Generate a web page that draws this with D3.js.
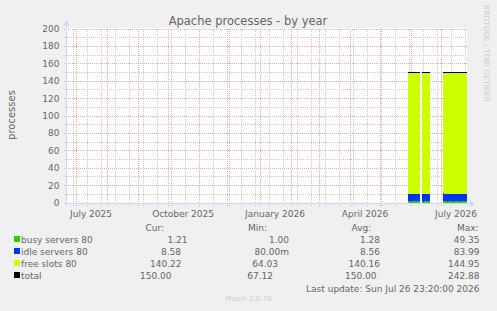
<!DOCTYPE html>
<html>
<head>
<meta charset="utf-8">
<script src="https://cdn.jsdelivr.net/npm/d3@7"></script>
<style>
  html, body { margin: 0; padding: 0; background: #f0f0f0; }
  svg { display: block; font-family: "DejaVu Sans", sans-serif; }
</style>
</head>
<body>
<div id="chart"></div>
<script>
// ---- data ----
const endTime = new Date(Date.UTC(2026, 6, 26, 23, 20));
const dataStart = new Date(Date.UTC(2026, 4, 29));   // first daily sample shown
const yTicks = [0, 20, 40, 60, 80, 100, 120, 140, 160, 180, 200];
const xLabels = ["July 2025", "October 2025", "January 2026", "April 2026", "July 2026"];
const xLabelDates = ["2025-07-01", "2025-10-01", "2026-01-01", "2026-04-01", "2026-07-01"];

const N = null;
const busy = [1.2,1.3,1.2,1.1,1.3,1.2,1.4,1.3,1.2,1.5,1.6,1.4, N,N,
  1.2,1.1,1.3,1.2,1.2,1.4,1.3,1.2, N,N,N,N,N,N,N,N,N,N,N,N,N,
  1.3,1.2,1.4,1.2,1.1,1.2,1.3,1.2,1.2,1.3,1.1,1.2,1.2,1.3,1.2,1.2,1.1,1.2,1.3,1.2,1.2,1.2,1.3,1.2];
const idle = [8.6,8.5,8.7,8.6,8.5,8.6,8.4,8.5,8.6,8.3,8.2,8.4, N,N,
  8.6,8.7,8.5,8.6,8.6,8.4,8.5,8.6, N,N,N,N,N,N,N,N,N,N,N,N,N,
  9.6,8.9,8.6,8.5,8.7,8.6,8.5,8.6,8.6,8.5,8.7,8.6,8.6,8.5,8.6,8.6,8.7,8.6,8.5,8.6,8.6,8.6,8.5,8.6];
const free = [140.2,140.2,140.1,140.3,140.2,140.2,140.2,140.2,140.2,140.2,140.2,140.2, N,N,
  140.2,140.2,140.2,140.2,140.2,140.2,140.2,140.2, N,N,N,N,N,N,N,N,N,N,N,N,N,
  139.1,139.9,140.0,140.3,140.2,140.2,140.2,140.2,140.2,140.2,140.2,140.2,140.2,140.2,140.2,140.2,140.2,140.2,140.2,140.2,140.2,140.2,140.2,140.2];
const total = [150,150,150,150,150,150,150,150,150,150,150,150, N,N,
  150,150,150,150,150,150,150,150, N,N,N,N,N,N,N,N,N,N,N,N,N,
  150,150,150,150,150,150,150,150,150,150,150,150,150,150,150,150,150,150,150,150,150,150,150,150];

const seriesNames = ["busy servers 80", "idle servers 80", "free slots 80", "total"];
const seriesColors = ["#33cc00", "#0033ff", "#ccff00", "#000000"];
const legendHeads = ["Cur:", "Min:", "Avg:", "Max:"];
const curVals = ["1.21", "8.58", "140.22", "150.00"];
const minVals = ["1.00", "80.00m", "64.03", "67.12"];
const avgVals = ["1.28", "8.56", "140.16", "150.00"];
const maxVals = ["49.35", "83.99", "144.95", "242.88"];
const lastUpdate = "Last update: Sun Jul 26 23:20:00 2026";

// ---- layout ----
const W = 497, H = 311;
const plot = { left: 67, right: 467, top: 28.5, bottom: 202.5 };
const headX = [145.5, 248, 351.5, 457];            // header start x
const colEnd = [                                     // right edge of value text, per column, per row
  [187.5, 181, 181.5, 171.5],
  [289, 289, 278, 273],
  [380, 380, 380, 376.5],
  [479.5, 479.5, 479.5, 479.5]
];
const rowY = [242.5, 254.5, 266.5, 278.5];
const muted = "#666666";

const svg = d3.select("#chart").append("svg")
  .attr("width", W).attr("height", H);

svg.append("rect").attr("width", W).attr("height", H).attr("fill", "#f0f0f0");
svg.append("rect")
  .attr("x", plot.left).attr("y", plot.top - 0.5)
  .attr("width", plot.right - plot.left).attr("height", plot.bottom - plot.top + 0.5)
  .attr("fill", "#ffffff");

const x = d3.scaleUtc()
  .domain([d3.utcDay.offset(endTime, -400), endTime])
  .range([plot.left, plot.right]);
const y = d3.scaleLinear().domain([0, 200]).range([plot.bottom, plot.top]);

const px = v => Math.round(v) + 0.5;

// minor grid: every 14 days, major: month starts
const anchor = new Date(Date.UTC(2026, 2, 21));
const minorDays = d3.utcDay.range(x.domain()[0], endTime)
  .filter(d => Math.round((d - anchor) / 864e5) % 14 === 0);
const months = d3.utcMonth.range(x.domain()[0], endTime);

const grid = svg.append("g").attr("shape-rendering", "crispEdges");
// horizontal minor grid (every 10)
d3.range(10, 200, 20).forEach(v => {
  grid.append("line")
    .attr("x1", plot.left - 2).attr("x2", plot.right)
    .attr("y1", px(y(v))).attr("y2", px(y(v)))
    .attr("stroke", "#c8c8c8").attr("stroke-dasharray", "1,1");
});
minorDays.forEach(d => {
  grid.append("line")
    .attr("x1", px(x(d))).attr("x2", px(x(d)))
    .attr("y1", plot.top).attr("y2", plot.bottom + 3)
    .attr("stroke", "#c8c8c8").attr("stroke-dasharray", "1,1");
});
yTicks.forEach(v => {
  grid.append("line")
    .attr("x1", plot.left - 3).attr("x2", plot.right)
    .attr("y1", px(y(v))).attr("y2", px(y(v)))
    .attr("stroke", "#eaaaaa").attr("stroke-dasharray", "1,1");
});
months.forEach(d => {
  grid.append("line")
    .attr("x1", px(x(d))).attr("x2", px(x(d)))
    .attr("y1", plot.top).attr("y2", plot.bottom + 3)
    .attr("stroke", "#eaaaaa").attr("stroke-dasharray", "1,1");
});

// stacked daily areas
const days = busy.map((_, i) => d3.utcDay.offset(dataStart, i));
const rows = days.map((d, i) => ({ date: d, busy: busy[i], idle: idle[i], free: free[i], total: total[i] }));
const keys = ["busy", "idle", "free"];
const stacked = d3.stack().keys(keys).value((d, k) => d[k] == null ? 0 : d[k])(rows);

const marks = svg.append("g").attr("shape-rendering", "crispEdges");
stacked.forEach((layer, li) => {
  marks.selectAll(null)
    .data(layer.filter(s => s.data.busy != null))
    .join("rect")
    .attr("x", s => x(s.data.date))
    .attr("width", s => Math.min(x(d3.utcDay.offset(s.data.date, 1)), plot.right) - x(s.data.date))
    .attr("y", s => y(s[1]))
    .attr("height", s => y(s[0]) - y(s[1]))
    .attr("fill", seriesColors[li]);
});

// total line
rows.filter(r => r.total != null).forEach(r => {
  marks.append("line")
    .attr("x1", x(r.date))
    .attr("x2", Math.min(x(d3.utcDay.offset(r.date, 1)), plot.right))
    .attr("y1", px(y(r.total))).attr("y2", px(y(r.total)))
    .attr("stroke", seriesColors[3]).attr("stroke-width", 1);
});

// axes
const axisColor = "#cfd6f8";
svg.append("line")
  .attr("x1", plot.left - 3).attr("x2", plot.right + 3)
  .attr("y1", px(y(0))).attr("y2", px(y(0)))
  .attr("stroke", axisColor).attr("shape-rendering", "crispEdges");
svg.append("path")
  .attr("d", `M${plot.right + 3},${px(y(0)) - 3.5}L${plot.right + 8},${px(y(0))}L${plot.right + 3},${px(y(0)) + 3.5}Z`)
  .attr("fill", axisColor);
svg.append("line")
  .attr("x1", px(plot.left - 1)).attr("x2", px(plot.left - 1))
  .attr("y1", plot.bottom + 3).attr("y2", plot.top - 3)
  .attr("stroke", axisColor).attr("shape-rendering", "crispEdges");
svg.append("path")
  .attr("d", `M${px(plot.left - 1) - 3.5},${plot.top - 3}L${px(plot.left - 1)},${plot.top - 8}L${px(plot.left - 1) + 3.5},${plot.top - 3}Z`)
  .attr("fill", axisColor);

// y tick labels
svg.append("g").selectAll("text")
  .data(yTicks).join("text")
  .attr("x", 59.5).attr("y", d => y(d) + 3.4)
  .attr("text-anchor", "end").attr("font-size", 9).attr("fill", muted)
  .text(d => d);

// x labels, centred half a month after the tick
svg.append("g").selectAll("text")
  .data(xLabels).join("text")
  .attr("x", (d, i) => x(d3.utcDay.offset(new Date(xLabelDates[i] + "T00:00:00Z"), 15)))
  .attr("y", 216.5)
  .attr("text-anchor", "middle").attr("font-size", 9).attr("fill", muted)
  .text(d => d);

// titles
svg.append("text")
  .attr("x", 248).attr("y", 25)
  .attr("text-anchor", "middle").attr("font-size", 11.5).attr("fill", muted)
  .text("Apache processes - by year");
svg.append("text")
  .attr("transform", "translate(15,115) rotate(-90)")
  .attr("text-anchor", "middle").attr("font-size", 10).attr("fill", muted)
  .text("processes");
svg.append("text")
  .attr("transform", "translate(483.5,5) rotate(90)")
  .attr("font-size", 7.5).attr("fill", "#cccccc")
  .text("RRDTOOL / TOBI OETIKER");
svg.append("text")
  .attr("x", 248.5).attr("y", 300.5)
  .attr("text-anchor", "middle").attr("font-size", 7).attr("fill", "#cccccc")
  .text("Munin 2.0.76");

// legend
const legend = svg.append("g").attr("font-size", 9).attr("fill", muted);
legendHeads.forEach((h, i) => {
  legend.append("text").attr("x", headX[i]).attr("y", 230.5).text(h);
});
seriesNames.forEach((name, i) => {
  legend.append("rect")
    .attr("x", 14).attr("y", rowY[i] - 6.5).attr("width", 6).attr("height", 6)
    .attr("fill", seriesColors[i]);
  legend.append("text").attr("x", 21).attr("y", rowY[i]).text(name);
});
[curVals, minVals, avgVals, maxVals].forEach((col, ci) => {
  col.forEach((v, ri) => {
    legend.append("text")
      .attr("x", colEnd[ci][ri]).attr("y", rowY[ri])
      .attr("text-anchor", "end").text(v);
  });
});
legend.append("text")
  .attr("x", 479.5).attr("y", 292)
  .attr("text-anchor", "end").text(lastUpdate);
</script>
</body>
</html>
